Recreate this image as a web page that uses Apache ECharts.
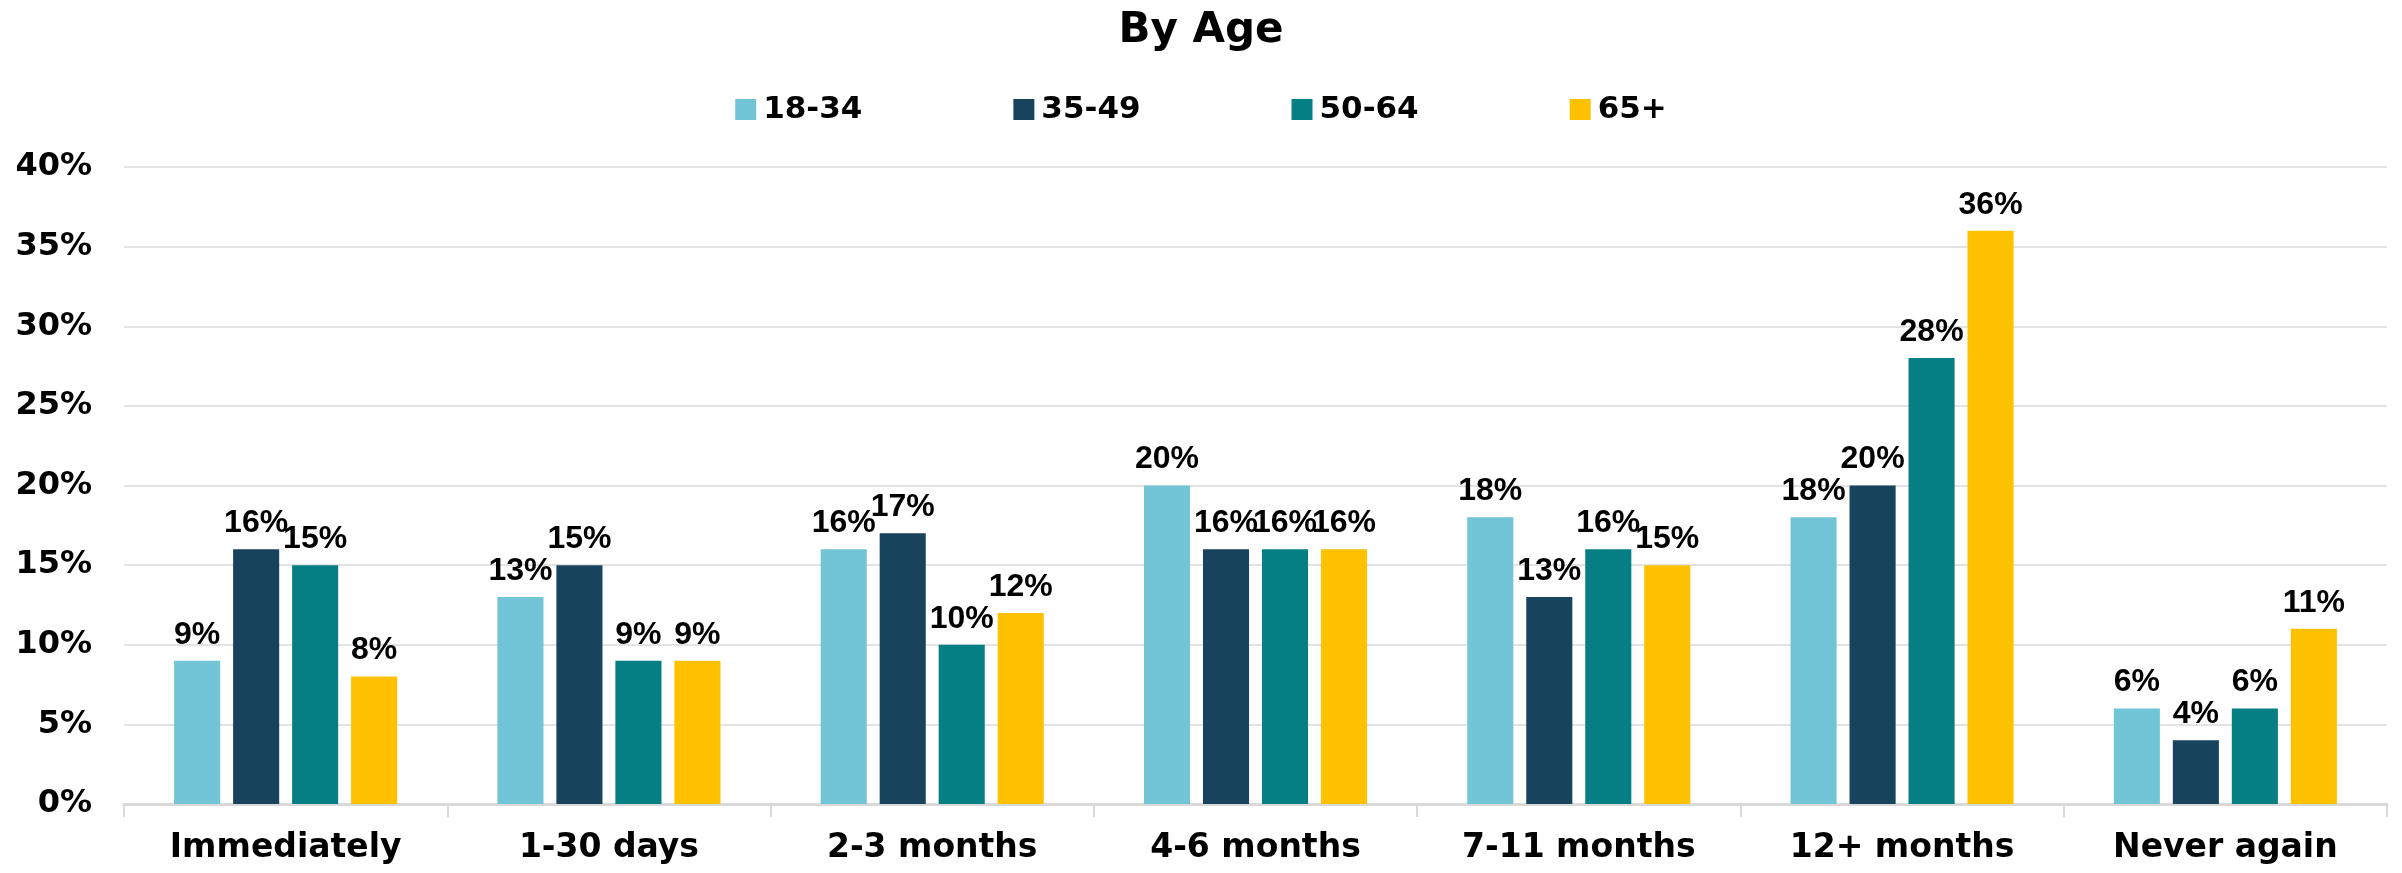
<!DOCTYPE html>
<html><head><meta charset="utf-8">
<script src="https://cdn.jsdelivr.net/npm/echarts@6/dist/echarts.min.js"></script>
<style>html,body{margin:0;padding:0;background:#fff}#c{width:2402px;height:873px}</style>
</head><body><div id="c"></div>
<script>
const categories = ['Immediately','1-30 days','2-3 months','4-6 months','7-11 months','12+ months','Never again'];
const seriesNames = ['18-34','35-49','50-64','65+'];
const s1834 = [9,13,16,20,18,18,6];
const s3549 = [16,15,17,16,13,20,4];
const s5064 = [15,9,10,16,16,28,6];
const s65p = [8,9,12,16,15,36,11];
const colors = ['#72C5D6','#17445C','#067F84','#FDC100'];
const yTicks = {min:0, max:40, interval:5};

const geo = '"DejaVu Sans", Lato, sans-serif';
const chart = echarts.init(document.getElementById('c'));
const vals = [s1834, s3549, s5064, s65p];
chart.setOption({
  animation:false,
  title:{text:'By Age', left:'center', top:5, textStyle:{fontFamily:geo, fontWeight:'bold', fontSize:42, color:'#000'}},
  legend:{top:89, left:'center', itemWidth:21, itemHeight:21, itemGap:151,
    icon:'rect', textStyle:{fontFamily:geo, fontWeight:'bold', fontSize:31, color:'#000', padding:[0,0,0,2]},
    data:seriesNames},
  grid:{left:124, right:15, top:167, bottom:69, containLabel:false},
  xAxis:{type:'category', data:categories,
    axisLine:{lineStyle:{color:'#D9D9D9', width:3}},
    axisTick:{show:true, length:13, lineStyle:{color:'#D9D9D9', width:2}},
    axisLabel:{margin:28, fontFamily:geo, fontWeight:'bold', fontSize:33, color:'#000'}},
  yAxis:{type:'value', min:yTicks.min, max:yTicks.max, interval:yTicks.interval,
    axisLabel:{formatter:'{value}%', margin:32, fontFamily:geo, fontWeight:'bold', fontSize:32, color:'#000'},
    splitLine:{lineStyle:{color:'#E3E3E3', width:2}},
    axisLine:{show:false}, axisTick:{show:false}},
  series: seriesNames.map((n,i)=>({
    name:n, type:'bar', data:vals[i], barGap:'28%', barCategoryGap:'31%',
    itemStyle:{color:colors[i]},
    label:{show:true, position:'top', distance:10, formatter:'{c}%',
      fontFamily:'"Liberation Sans", Arial, sans-serif', fontWeight:'bold', fontSize:32, color:'#000'}
  }))
});
</script></body></html>
